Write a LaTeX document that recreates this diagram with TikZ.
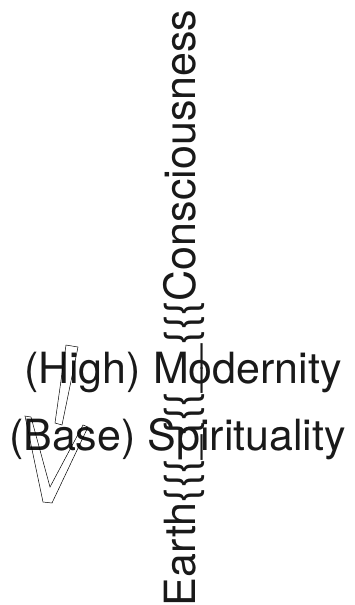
\documentclass[tikz,border=0pt]{standalone}
\usepackage{fontspec}
\setmainfont{TeX Gyre Heros}
\begin{document}
\begin{tikzpicture}[x=1bp,y=-1bp,
  txt/.style={inner sep=0pt, outer sep=0pt, font=\fontsize{43bp}{52bp}\selectfont, text=black!90},
  arr/.style={draw=black, line width=0.5pt, line join=miter}]
\useasboundingbox (0,0) rectangle (354,605);
\node[txt, anchor=base west] (high) at (24,383) {(High) Modernity};
\node[txt, anchor=base west] (base) at (9,450) {(Base) Spirituality};
\node[txt, anchor=base west, rotate=90] (axis) at (195,606) {Earth\{\{\{\_\{\{\{\_\_\{\{\{Consciousness};
\draw[arr] (66,345) -- (78,347) -- (62,425) -- (55,423) -- cycle;
\draw[arr] (25,416) -- (31,417) -- (50,487) -- (83,425) -- (88,427) -- (52,503) -- (43,502) -- cycle;
\end{tikzpicture}
\end{document}
